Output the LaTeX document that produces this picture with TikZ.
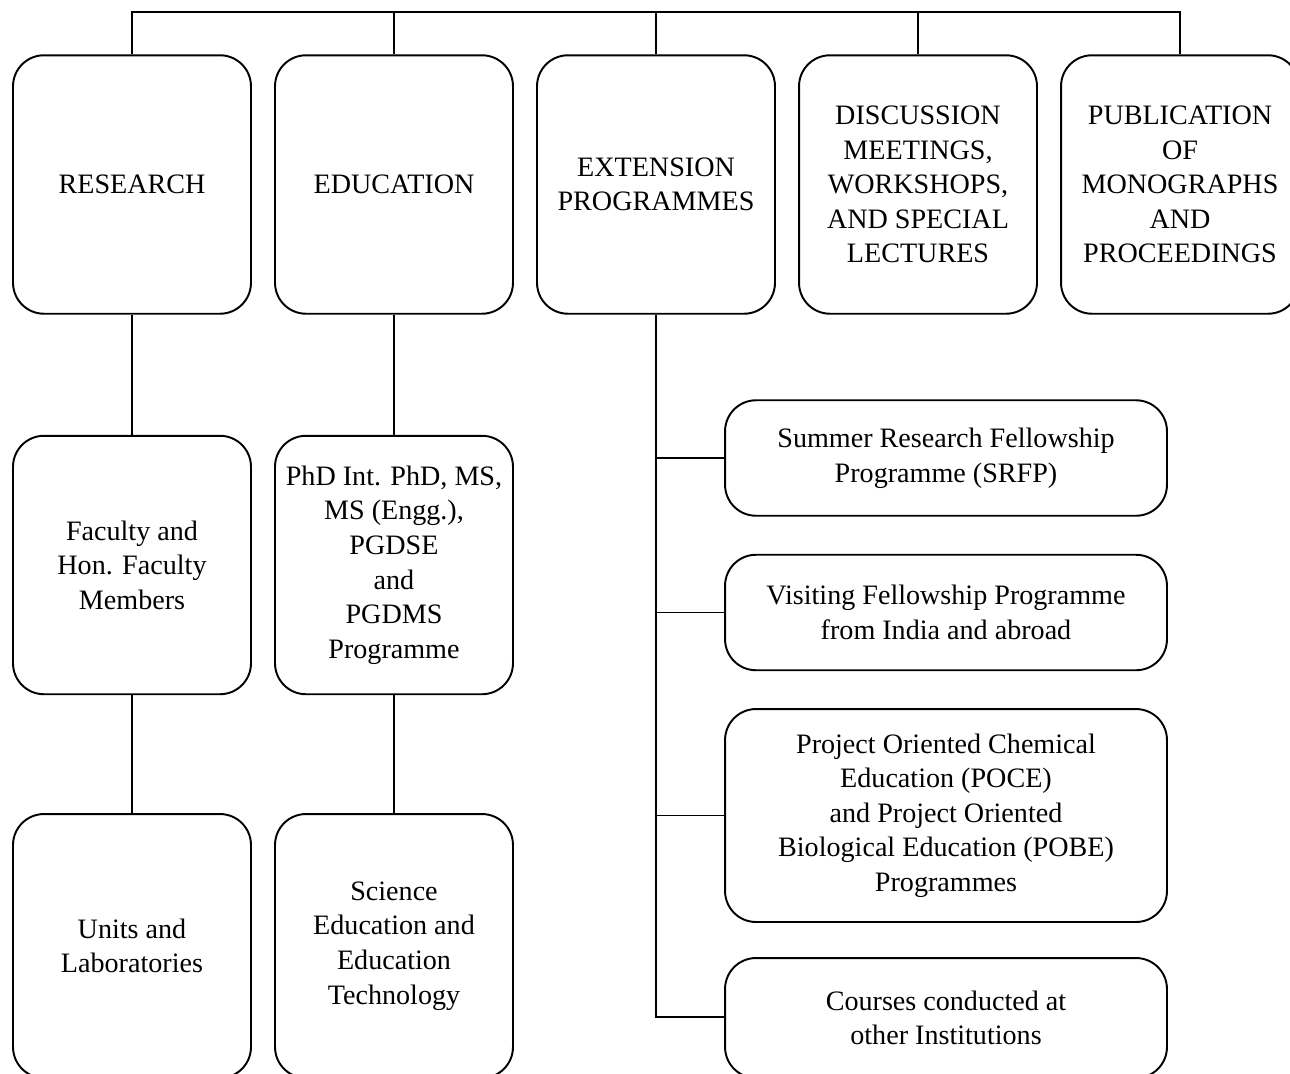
\documentclass[tikz,border=0pt]{standalone}
\usepackage{fontspec}
\setmainfont{Liberation Serif}
\usetikzlibrary{positioning}

\tikzset{
  unitbox/.style={draw, line width=1.1pt, rounded corners=0.62cm, align=center,
    minimum width=4.76cm, minimum height=5.17cm, inner sep=2pt,
    font=\fontsize{16}{19.7}\selectfont},
  widebox/.style={unitbox, minimum width=8.84cm, minimum height=2.31cm},
  link/.style={line width=1pt}
}

\begin{document}
\begin{tikzpicture}[x=0.02cm, y=-0.02cm]
\useasboundingbox (0,0) rectangle (1290,1073);
\clip (0,0) rectangle (1290,1073);

% Top row
\node[unitbox] (res)  at (132,184.5)  {RESEARCH};
\node[unitbox] (edu)  at (394,184.5)  {EDUCATION};
\node[unitbox] (ext)  at (656,184.5)  {EXTENSION\\PROGRAMMES};
\node[unitbox] (disc) at (918,184.5)  {DISCUSSION\\MEETINGS,\\WORKSHOPS,\\AND SPECIAL\\LECTURES};
\node[unitbox] (pub)  at (1180,184.5) {PUBLICATION\\OF\\MONOGRAPHS\\AND\\PROCEEDINGS};

% Research and education branches
\node[unitbox] (fac)  at (132,565) {Faculty and\\Hon. Faculty\\Members};
\node[unitbox] (phd)  at (394,565) {PhD Int. PhD, MS,\\MS (Engg.),\\PGDSE\\and\\PGDMS\\Programme};
\node[unitbox, minimum height=5.28cm] (lab) at (132,946) {Units and\\Laboratories};
\node[unitbox, minimum height=5.28cm] (sci) at (394,946) {Science\\Education and\\Education\\Technology};

% Extension programmes
\node[widebox] (srfp)   at (946,458)   {Summer Research Fellowship\\Programme (SRFP)};
\node[widebox] (visit)  at (946,612.5) {Visiting Fellowship Programme\\from India and abroad};
\node[widebox, minimum height=4.26cm] (proj) at (946,815.5)
  {Project Oriented Chemical\\Education (POCE)\\and Project Oriented\\Biological Education (POBE)\\Programmes};
\node[widebox, minimum height=2.4cm] (course) at (946,1018) {Courses conducted at\\other Institutions};

% Top bus
\coordinate (bus) at (656,12);
\draw[link] (res.north) |- (bus) -| (pub.north);
\foreach \n in {edu,ext,disc} {
    \draw[link] (\n.north) -- (\n.north |- bus);
}

% Vertical chains
\draw[link] (res) -- (fac);
\draw[link] (fac) -- (lab);
\draw[link] (edu) -- (phd);
\draw[link] (phd) -- (sci);

% Extension spine
\coordinate (spineend) at (656,1017);
\draw[link] (ext.south) -- (spineend) -- (spineend -| course.west);
\foreach \n in {srfp,visit,proj} {
    \draw[link] (ext.south |- \n.west) -- (\n.west);
}

\end{tikzpicture}
\end{document}
